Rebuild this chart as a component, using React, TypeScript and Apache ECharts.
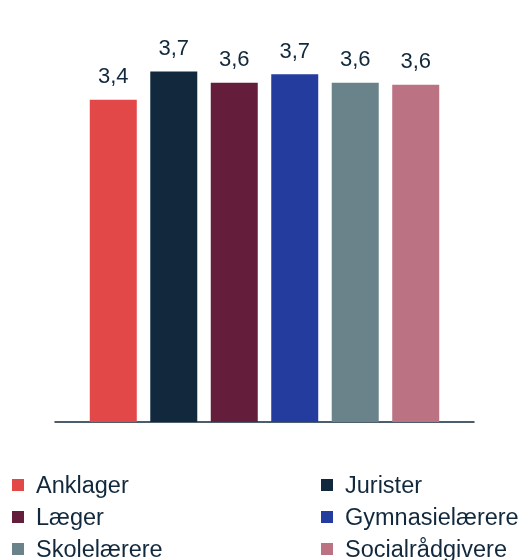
import React, { useEffect, useRef } from "react";
import * as echarts from "echarts";

const categories = ["Anklager", "Jurister", "Læger", "Gymnasielærere", "Skolelærere", "Socialrådgivere"];
const values = [3.41, 3.71, 3.59, 3.68, 3.59, 3.57];
const colors = ["#e24848", "#12293d", "#641e3c", "#233c9e", "#6a838b", "#bb7384"];

const FONT = "'Liberation Sans', Arial, Helvetica, sans-serif";
const TEXT = "#12293d";

export default function App() {
  const ref = useRef<HTMLDivElement>(null);
  useEffect(() => {
    if (!ref.current) return;
    const chart = echarts.init(ref.current, undefined, { renderer: "svg" });
    const legends = categories.map((name, i) => ({
      orient: "horizontal" as const,
      left: i % 2 === 0 ? 12 : 321,
      top: 473 + Math.floor(i / 2) * 32,
      padding: 0,
      itemWidth: 12,
      itemHeight: 12,
      icon: "rect",
      data: [name],
      textStyle: { color: TEXT, fontSize: 23.5, fontFamily: FONT, lineHeight: 20, padding: [0, 0, 0, 7] },
    }));
    chart.setOption({
      animation: false,
      textStyle: { fontFamily: FONT },
      grid: { left: 55, right: 52, top: 44, bottom: 138 },
      legend: legends,
      xAxis: {
        type: "category",
        data: [""],
        axisLine: { lineStyle: { color: TEXT, width: 1.5 } },
        axisTick: { show: false },
        axisLabel: { show: false },
      },
      yAxis: {
        type: "value",
        min: 0,
        max: 4,
        show: false,
        splitLine: { show: false },
      },
      series: categories.map((name, i) => ({
        name,
        type: "bar",
        data: [values[i]],
        barWidth: 47,
        barGap: "28.7%",
        itemStyle: { color: colors[i] },
        label: {
          show: true,
          position: "top",
          distance: 13,
          color: TEXT,
          fontSize: 22,
          fontFamily: FONT,
          formatter: (p: any) => p.value.toFixed(1).replace(".", ","),
        },
      })),
    });
    return () => chart.dispose();
  }, []);
  return <div ref={ref} style={{ position: "fixed", left: 0, top: 0, width: 526, height: 560 }} />;
}
